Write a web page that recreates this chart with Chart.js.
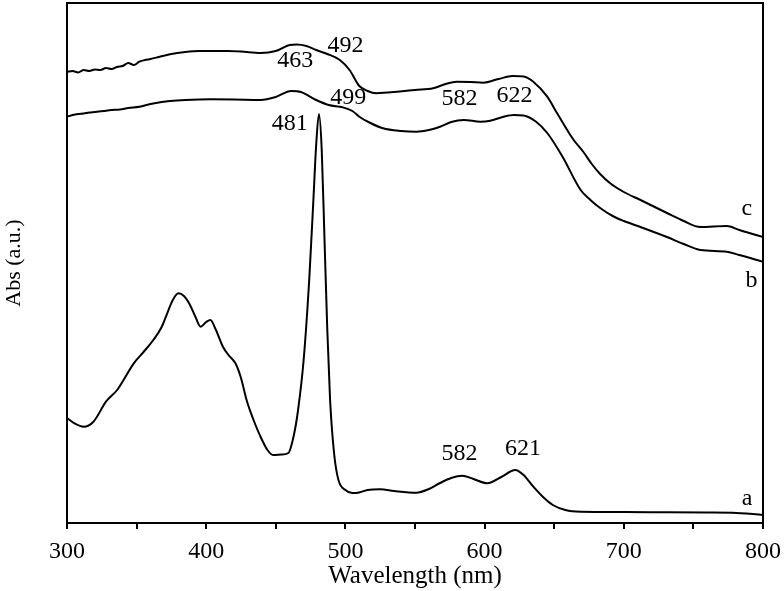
<!DOCTYPE html>
<html>
<head>
<meta charset="utf-8">
<script src="https://cdn.jsdelivr.net/npm/chart.js@4/dist/chart.umd.min.js"></script>
<style>
html,body{margin:0;padding:0;background:#fff;}
#wrap{width:784px;height:591px;position:relative;}
</style>
</head>
<body>
<div id="wrap"><canvas id="c" width="784" height="591"></canvas></div>
<script>
// Wavelength (nm) and absorbance (arbitrary units) for each curve
const wlA = [300,305,312,319,328,336,348,355,362,368,372,376,380,384,388,392,396,400,403,407,412,416,421,425,429,434,439,444,448,454,459,463,466,470,474,477,479,481,483,485,487,489,492,495,500,505,509,516,525,535,551,560,568,576,584,592,602,612,622,628,635,642,649,658,669,700,731,760,778,800];
const absA = [105,100,96.3,101.3,121.3,133,159.7,171,183,196,209.7,223,229.7,227,219,207,196.3,201,203,193,176.3,168,159.7,145,123,103,86.3,73,68,68.5,70,88,113,163,243,323,378,409,373,283,193,123,68,43,33,30,30.3,33,33.7,32,30.3,34,40,45,47.3,44,39.7,46,53,48,36.3,26,18,13,11.3,11,10.7,10.5,10.3,8];

const wlB = [300,304,308,312,316,320,326,332,338,344,352,360,368,374,385,403,420,439,450,461,468,479,488,498,505,510,518,527,540,551,560,568,576,585,597,604,613,621,628,637,645,656,669,676,683,692,700,712,731,743,755,774,783,800];
const absB = [406.3,408,409,409.5,410.5,411,412,413,413.5,415,416.3,419,421,422,423,423.7,423.5,423,426,432,431,423,418,415.7,412,406.3,400,394.7,392,391.3,393,396.3,401,403,401.3,402.3,406,408,407.5,401.3,390,366.3,333,323,315,307,302,296,286,279,273,271.3,268,261.3];

const wlC = [300,304,308,312,316,320,324,328,332,336,340,344,348,352,356,360,366,374,385,395,403,415,425,439,450,460,465,472,479,487,496,503,510,516,522,530,539,550,563,572,580,590,599,610,620,628,635,645,652,664,671,677,683,690,700,712,731,743,755,774,783,800];
const absC = [451,452,450.5,453,452,453.5,453,455,454,456,457,460,458,461.3,463,464,466,468.7,471,472,472,472,471.5,470,472,478,478.5,477,473,469,463,453,437,432,429.7,430.5,431.5,433,434.7,439,441.3,441,440.3,444,447,446.5,441.3,426.3,410,383,371,359,349,340,331,323,310,302,296,297,293,286];

// Peak annotations: text, wavelength, absorbance (baseline)
const labelText = ["492","463","499","481","582","622","582","621","a","b","c"];
const labelWl   = [500,464,502,460,582,621.5,582,627.6,788.5,791.8,788.3];
const labelAbs  = [471,456,419,393,418,421.3,63,68,18,236,308];

const xTicksMajor = [300,400,500,600,700,800];

function pts(xs, ys){ return xs.map((x,i)=>({x:x,y:ys[i]})); }

const FONT = '"Liberation Serif", "Times New Roman", serif';

const framePlugin = {
  id:'frame',
  afterDatasetsDraw(chart){
    const {ctx, chartArea:a} = chart;
    ctx.save();
    ctx.strokeStyle = '#000';
    ctx.lineWidth = 2;
    ctx.strokeRect(a.left, a.top, a.right-a.left, a.bottom-a.top);
    const xs = chart.scales.x, ys = chart.scales.y;
    ctx.fillStyle = '#000';
    ctx.font = '24px ' + FONT;
    ctx.textAlign = 'center';
    ctx.textBaseline = 'alphabetic';
    labelText.forEach((t,i)=>{
      ctx.fillText(t, xs.getPixelForValue(labelWl[i]), ys.getPixelForValue(labelAbs[i]));
    });
    ctx.restore();
  }
};

const lineStyle = {borderColor:'#000', borderWidth:2, pointRadius:0, fill:false, cubicInterpolationMode:'monotone'};

new Chart(document.getElementById('c'), {
  type:'line',
  data:{
    datasets:[
      Object.assign({label:'a', data:pts(wlA,absA)}, lineStyle),
      Object.assign({label:'b', data:pts(wlB,absB)}, lineStyle),
      Object.assign({label:'c', data:pts(wlC,absC)}, lineStyle)
    ]
  },
  options:{
    responsive:false,
    animation:false,
    layout:{padding:{left:0,right:21,top:3,bottom:0}},
    plugins:{legend:{display:false}, tooltip:{enabled:false}},
    scales:{
      x:{
        type:'linear', min:300, max:800,
        ticks:{stepSize:50, autoSkip:false, maxRotation:0, color:'#000', padding:8,
          font:{family:FONT, size:24},
          callback:(v)=> xTicksMajor.includes(v) ? String(v) : ''},
        grid:{display:true, drawOnChartArea:false, drawTicks:true, tickLength:6, color:'#000', lineWidth:2},
        border:{display:true, color:'#000', width:2},
        title:{display:true, text:'Wavelength (nm)', color:'#000', font:{family:FONT, size:25}, padding:{top:0,bottom:0}},
        afterFit(s){ s.height = 68; s.paddingLeft = 0; s.paddingRight = 0; }
      },
      y:{
        type:'linear', min:0, max:520,
        ticks:{display:false},
        grid:{display:false},
        border:{display:true, color:'#000', width:2},
        title:{display:true, text:'Abs (a.u.)', color:'#000', font:{family:FONT, size:22}, padding:{top:1,bottom:0}},
        afterFit(s){ s.width = 67; }
      }
    }
  },
  plugins:[framePlugin]
});
</script>
</body>
</html>
